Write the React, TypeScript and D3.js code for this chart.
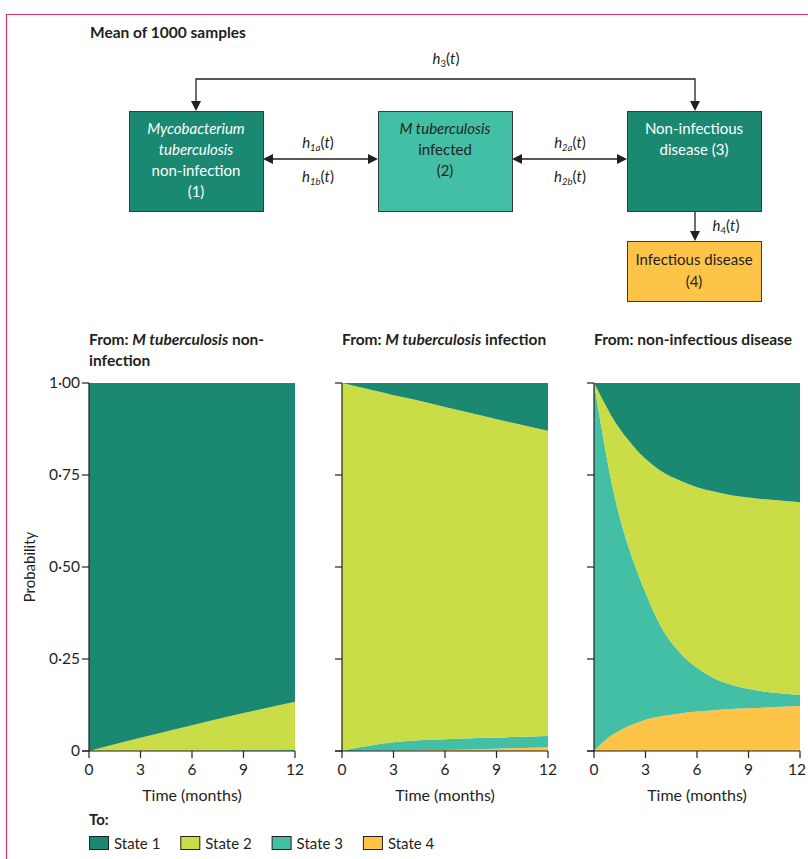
import React from "react";
import * as d3 from "d3";

// ---------- data ----------
const STATE_KEYS = ["s1", "s2", "s3", "s4"];
const STATE_LABELS = ["State 1", "State 2", "State 3", "State 4"];
const STATE_COLORS = ["#1b8872", "#cadc46", "#43bfa5", "#fec447"];

const Y_TICKS = [0, 0.25, 0.5, 0.75, 1];
const Y_TICK_LABELS = ["0", "0·25", "0·50", "0·75", "1·00"];
const X_TICKS = [0, 3, 6, 9, 12];

// Panel 1: from M tuberculosis non-infection
const P1_TIMES = [0, 3, 6, 9, 12];
const P1_S1 = [1, 0.964, 0.93, 0.897, 0.866];
const P1_S2 = [0, 0.0355, 0.069, 0.101, 0.131];
const P1_S3 = [0, 0.0005, 0.001, 0.002, 0.003];
const P1_S4 = [0, 0, 0, 0, 0];

// Panel 2: from M tuberculosis infection
const P2_TIMES = [0, 1, 2, 3, 4, 6, 8, 10, 12];
const P2_S1 = [0, 0.011, 0.022, 0.033, 0.043, 0.065, 0.087, 0.109, 0.13];
const P2_S2 = [1, 0.979, 0.96, 0.943, 0.929, 0.903, 0.878, 0.853, 0.829];
const P2_S3 = [0, 0.01, 0.0175, 0.023, 0.0265, 0.029, 0.03, 0.0305, 0.031];
const P2_S4 = [0, 0, 0.0005, 0.001, 0.0015, 0.003, 0.005, 0.0075, 0.01];

// Panel 3: from non-infectious disease
const P3_TIMES = [0, 0.5, 1, 1.5, 2, 2.5, 3, 4, 5, 6, 7, 8, 9, 10, 11, 12];
const P3_S1 = [0, 0.045, 0.088, 0.124, 0.155, 0.183, 0.206, 0.242, 0.265, 0.283, 0.295, 0.305, 0.311, 0.316, 0.32, 0.324];
const P3_S2 = [0, 0.093, 0.177, 0.241, 0.289, 0.327, 0.364, 0.428, 0.467, 0.491, 0.507, 0.515, 0.52, 0.523, 0.524, 0.524];
const P3_S3 = [1, 0.839, 0.693, 0.579, 0.489, 0.413, 0.345, 0.235, 0.166, 0.119, 0.087, 0.066, 0.053, 0.043, 0.036, 0.03];
const P3_S4 = [0, 0.023, 0.042, 0.056, 0.067, 0.077, 0.085, 0.095, 0.102, 0.107, 0.111, 0.114, 0.116, 0.118, 0.12, 0.122];

const PANELS = [
  { times: P1_TIMES, series: [P1_S1, P1_S2, P1_S3, P1_S4] },
  { times: P2_TIMES, series: [P2_S1, P2_S2, P2_S3, P2_S4] },
  { times: P3_TIMES, series: [P3_S1, P3_S2, P3_S3, P3_S4] },
];

// ---------- layout ----------
const W = 808;
const H = 859;
const FONT = "Lato, 'Open Sans', sans-serif";
const TXT = "#231f20";
const PANEL_LEFTS = [89, 342, 594];
const PANEL_W = 206;
const PLOT_TOP = 383;
const PLOT_BOTTOM = 751;

function Arrow({ x, y, dir }: { x: number; y: number; dir: string }) {
  const s = 5, l = 10;
  let pts = "";
  if (dir === "down") pts = `${x - s},${y - l} ${x + s},${y - l} ${x},${y}`;
  if (dir === "left") pts = `${x + l},${y - s} ${x + l},${y + s} ${x},${y}`;
  if (dir === "right") pts = `${x - l},${y - s} ${x - l},${y + s} ${x},${y}`;
  return <polygon points={pts} fill={TXT} />;
}

function HLabel({ x, y, sub }: { x: number; y: number; sub: string }) {
  return (
    <text x={x} y={y} textAnchor="middle" fontSize={15} fill={TXT} fontFamily={FONT}>
      <tspan fontStyle="italic">h</tspan>
      <tspan fontSize={9.5} dy={3} fontStyle={sub.length > 1 ? "italic" : "normal"}>{sub}</tspan>
      <tspan dy={-3}>(</tspan>
      <tspan fontStyle="italic">t</tspan>
      <tspan>)</tspan>
    </text>
  );
}

function Panel({ idx }: { idx: number }) {
  const p = PANELS[idx];
  const left = PANEL_LEFTS[idx];
  const x = d3.scaleLinear().domain([0, 12]).range([left, left + PANEL_W]);
  const y = d3.scaleLinear().domain([0, 1]).range([PLOT_BOTTOM, PLOT_TOP]);
  const rows = p.times.map((t, i) => {
    const r: any = { t };
    STATE_KEYS.forEach((k, j) => (r[k] = p.series[j][i]));
    return r;
  });
  const stack = d3.stack<any>().keys(["s4", "s3", "s2", "s1"]);
  const layers = stack(rows);
  const area = d3
    .area<any>()
    .x((d) => x(d.data.t))
    .y0((d) => y(d[0]))
    .y1((d) => y(d[1]))
    .curve(d3.curveMonotoneX);
  return (
    <g>
      {layers.map((layer) => {
        const k = STATE_KEYS.indexOf(layer.key);
        return <path key={layer.key} d={area(layer) || ""} fill={STATE_COLORS[k]} />;
      })}
      {/* y axis */}
      <line x1={left} x2={left} y1={PLOT_TOP} y2={PLOT_BOTTOM} stroke={TXT} strokeWidth={1.2} />
      {Y_TICKS.map((v, i) => (
        <g key={v}>
          <line x1={left - 7} x2={left} y1={y(v)} y2={y(v)} stroke={TXT} strokeWidth={1.2} />
          {idx === 0 && (
            <text x={left - 9} y={y(v) + 5} textAnchor="end" fontSize={15.5} fill={TXT} fontFamily={FONT}>
              {Y_TICK_LABELS[i]}
            </text>
          )}
        </g>
      ))}
      {/* x axis */}
      <line x1={left - 7} x2={left + PANEL_W} y1={PLOT_BOTTOM} y2={PLOT_BOTTOM} stroke={TXT} strokeWidth={1.2} />
      {X_TICKS.map((v) => (
        <g key={v}>
          <line x1={x(v)} x2={x(v)} y1={PLOT_BOTTOM} y2={PLOT_BOTTOM + 7} stroke={TXT} strokeWidth={1.2} />
          <text x={Math.min(x(v), W - 11)} y={PLOT_BOTTOM + 24} textAnchor="middle" fontSize={15.5} fill={TXT} fontFamily={FONT}>
            {v}
          </text>
        </g>
      ))}
      <text x={left + PANEL_W / 2} y={PLOT_BOTTOM + 50} textAnchor="middle" fontSize={16} fill={TXT} fontFamily={FONT}>
        Time (months)
      </text>
    </g>
  );
}

export default function App() {
  const boxStroke = "#3a3a3a";
  return (
    <svg width={W} height={H} style={{ position: "absolute", left: 0, top: 0, background: "#fff" }} fontFamily={FONT}>
      {/* frame */}
      <line x1={6} x2={W} y1={14.5} y2={14.5} stroke="#d8306a" strokeWidth={1.2} />
      <line x1={6.5} x2={6.5} y1={14} y2={H} stroke="#d8306a" strokeWidth={1.2} />

      <text x={90} y={38} fontSize={15.5} fontWeight="bold" fill={TXT}>Mean of 1000 samples</text>

      {/* diagram connectors */}
      <polyline points="196,101 196,79 695,79 695,101" fill="none" stroke={TXT} strokeWidth={1.3} />
      <Arrow x={196} y={111} dir="down" />
      <Arrow x={695} y={111} dir="down" />
      <HLabel x={446} y={64} sub="3" />

      <line x1={272} x2={369} y1={159} y2={159} stroke={TXT} strokeWidth={1.3} />
      <Arrow x={263} y={159} dir="left" />
      <Arrow x={378} y={159} dir="right" />
      <HLabel x={318} y={148} sub="1a" />
      <HLabel x={318} y={182} sub="1b" />

      <line x1={521} x2={618} y1={159} y2={159} stroke={TXT} strokeWidth={1.3} />
      <Arrow x={512} y={159} dir="left" />
      <Arrow x={627} y={159} dir="right" />
      <HLabel x={570} y={148} sub="2a" />
      <HLabel x={570} y={182} sub="2b" />

      <line x1={695} x2={695} y1={211} y2={232} stroke={TXT} strokeWidth={1.3} />
      <Arrow x={695} y={241} dir="down" />
      <HLabel x={726} y={231} sub="4" />

      {/* boxes */}
      <rect x={129.5} y={111.5} width={134} height={100} fill={STATE_COLORS[0]} stroke={boxStroke} />
      <text textAnchor="middle" fontSize={15} fill="#fff">
        <tspan x={196} y={134} fontStyle="italic">Mycobacterium</tspan>
        <tspan x={196} y={155} fontStyle="italic">tuberculosis</tspan>
        <tspan x={196} y={176}>non-infection</tspan>
        <tspan x={196} y={197}>(1)</tspan>
      </text>

      <rect x={378.5} y={111.5} width={134} height={100} fill={STATE_COLORS[2]} stroke={boxStroke} />
      <text textAnchor="middle" fontSize={15} fill={TXT}>
        <tspan x={445} y={134} fontStyle="italic">M tuberculosis</tspan>
        <tspan x={445} y={155}>infected</tspan>
        <tspan x={445} y={176}>(2)</tspan>
      </text>

      <rect x={627.5} y={111.5} width={134} height={100} fill={STATE_COLORS[0]} stroke={boxStroke} />
      <text textAnchor="middle" fontSize={15} fill="#fff">
        <tspan x={694} y={134}>Non-infectious</tspan>
        <tspan x={694} y={155}>disease (3)</tspan>
      </text>

      <rect x={627.5} y={241.5} width={134} height={60} fill={STATE_COLORS[3]} stroke={boxStroke} />
      <text textAnchor="middle" fontSize={15} fill={TXT}>
        <tspan x={694} y={265}>Infectious disease</tspan>
        <tspan x={694} y={287}>(4)</tspan>
      </text>

      {/* panel titles */}
      <text fontSize={15.5} fontWeight="bold" fill={TXT}>
        <tspan x={89} y={345}>From: </tspan>
        <tspan fontStyle="italic">M tuberculosis</tspan>
        <tspan> non-</tspan>
        <tspan x={89} y={366}>infection</tspan>
      </text>
      <text x={342} y={345} fontSize={15.5} fontWeight="bold" fill={TXT}>
        From: <tspan fontStyle="italic">M tuberculosis</tspan> infection
      </text>
      <text x={594} y={345} fontSize={15.5} fontWeight="bold" fill={TXT}>
        From: non-infectious disease
      </text>

      {[0, 1, 2].map((i) => (
        <Panel key={i} idx={i} />
      ))}

      <text transform={`translate(35,${(PLOT_TOP + PLOT_BOTTOM) / 2}) rotate(-90)`} textAnchor="middle" fontSize={15} fill={TXT}>
        Probability
      </text>

      {/* legend */}
      <text x={89} y={825} fontSize={15} fontWeight="bold" fill={TXT}>To:</text>
      {STATE_LABELS.map((lab, i) => {
        const lx = 89 + i * 91.3;
        return (
          <g key={lab}>
            <rect x={lx + 0.5} y={836.5} width={19} height={13} fill={STATE_COLORS[i]} stroke={TXT} strokeWidth={1} />
            <text x={lx + 25} y={849} fontSize={15} fill={TXT}>{lab}</text>
          </g>
        );
      })}
    </svg>
  );
}
